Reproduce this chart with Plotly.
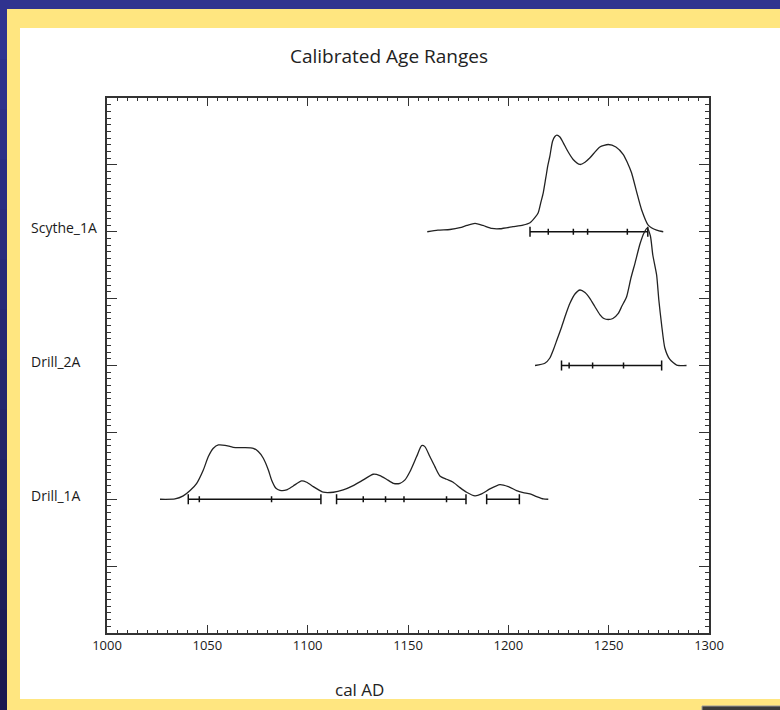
import plotly.graph_objects as go

# ---------------- data ----------------
samples = ["Scythe_1A", "Drill_2A", "Drill_1A"]

scythe_years = [1159.6, 1164.9, 1170.9, 1175.9, 1179.4, 1183.4, 1187.3, 1191.8, 1195.8, 1202.3,
                1207.3, 1210.8, 1213.3, 1214.9, 1216.2, 1217.4, 1218.7, 1219.7, 1220.7, 1222.0,
                1223.2, 1224.2, 1225.7, 1227.4, 1229.7, 1232.3, 1235.7, 1238.2, 1240.7, 1245.6,
                1249.8, 1253.6, 1257.3, 1259.3, 1261.4, 1263.9, 1266.4, 1269.7, 1273.9, 1277.2]
scythe_dens = [0, 0.024, 0.034, 0.060, 0.094, 0.124, 0.094, 0.049, 0.045, 0.075,
               0.099, 0.135, 0.214, 0.284, 0.438, 0.583, 0.812, 0.991, 1.130, 1.350,
               1.425, 1.444, 1.417, 1.330, 1.200, 1.081, 1.006, 1.040, 1.106, 1.268,
               1.305, 1.268, 1.155, 1.036, 0.882, 0.600, 0.330, 0.100, 0.024, 0]

drill2_years = [1213.3, 1218.2, 1220.7, 1222.4, 1224.2, 1226.6, 1228.7, 1230.7, 1233.2, 1235.7,
                1238.2, 1240.7, 1243.1, 1245.6, 1247.6, 1249.8, 1252.1, 1254.8, 1256.6, 1258.9,
                1261.1, 1263.1, 1265.6, 1267.6, 1269.2, 1270.8, 1272.0, 1273.9, 1275.0, 1276.4,
                1278.0, 1280.5, 1283.9, 1288.8]
drill2_dens = [0, 0.033, 0.112, 0.232, 0.381, 0.580, 0.770, 0.930, 1.069, 1.129,
               1.091, 1.001, 0.882, 0.762, 0.703, 0.688, 0.703, 0.780, 0.889, 1.024,
               1.308, 1.528, 1.816, 1.981, 2.055, 1.936, 1.652, 1.353, 0.979, 0.605,
               0.262, 0.090, 0.007, 0]

drill1_years = [1026.4, 1033.9, 1038.0, 1041.4, 1044.7, 1048.0, 1050.5, 1053.0, 1055.5, 1058.8,
                1062.9, 1067.9, 1072.9, 1075.4, 1077.9, 1080.4, 1082.0, 1084.2, 1086.2, 1089.5,
                1092.8, 1097.0, 1099.5, 1102.8, 1106.1, 1107.8, 1112.8, 1117.7, 1122.7, 1127.7,
                1132.7, 1136.0, 1139.3, 1142.7, 1146.0, 1148.5, 1151.0, 1154.3, 1156.8, 1158.4,
                1160.9, 1163.4, 1165.9, 1169.2, 1172.5, 1175.9, 1179.2, 1183.4, 1186.7, 1190.8,
                1195.8, 1200.0, 1204.1, 1207.4, 1210.8, 1214.1, 1217.4, 1219.9]
drill1_dens = [0, 0.005, 0.05, 0.13, 0.239, 0.438, 0.638, 0.762, 0.812, 0.807,
               0.777, 0.772, 0.762, 0.713, 0.613, 0.438, 0.289, 0.164, 0.134, 0.140,
               0.199, 0.274, 0.254, 0.189, 0.130, 0.105, 0.105, 0.140, 0.204, 0.289,
               0.374, 0.354, 0.299, 0.239, 0.239, 0.289, 0.414, 0.638, 0.802, 0.787,
               0.638, 0.488, 0.349, 0.299, 0.254, 0.174, 0.105, 0.050, 0.080, 0.154,
               0.219, 0.189, 0.130, 0.100, 0.080, 0.040, 0.005, 0]

scythe_ranges = [(1210.8, 1269.5)]
scythe_ticks = [1219.9, 1232.4, 1239.5, 1259.3]
drill2_ranges = [(1226.5, 1276.4)]
drill2_ticks = [1230.3, 1242.0, 1257.4]
drill1_ranges = [(1040.5, 1106.6), (1114.4, 1178.9), (1189.2, 1205.5)]
drill1_ticks = [1046.0, 1082.0, 1127.7, 1138.8, 1148.0, 1169.2]

x_ticks = [1000, 1050, 1100, 1150, 1200, 1250, 1300]

curves = [(scythe_years, scythe_dens), (drill2_years, drill2_dens), (drill1_years, drill1_dens)]
ranges = [scythe_ranges, drill2_ranges, drill1_ranges]
inner = [scythe_ticks, drill2_ticks, drill1_ticks]

# ---------------- layout geometry ----------------
W, H = 780, 710
ML, MR, MT, MB = 107, 71, 98, 77
PW, PH = W - ML - MR, H - MT - MB


def px(xp):
    return (xp - ML) / PW


def py(yp):
    return (H - MB - yp) / PH


INK = "#1a1a1a"
FONT = "Open Sans"
CAP = 0.075    # half-height of range end caps (y units)
TICK = 0.045   # half-height of inner ticks

fig = go.Figure()

n = len(samples)
for i, name in enumerate(samples):
    base = 2 * (n - i)
    xs, ds = curves[i]
    fig.add_trace(go.Scatter(
        x=xs, y=[base + d for d in ds], mode="lines",
        line=dict(color="#222222", width=1.3, shape="spline", smoothing=0.6),
        hoverinfo="skip", showlegend=False))
    bx, by = [], []
    for a, b in ranges[i]:
        bx += [a, b, None, a, a, None, b, b, None]
        by += [base, base, None, base - CAP, base + CAP, None, base - CAP, base + CAP, None]
    for t in inner[i]:
        bx += [t, t, None]
        by += [base - TICK, base + TICK, None]
    fig.add_trace(go.Scatter(
        x=bx, y=by, mode="lines", line=dict(color="#111111", width=1.5),
        hoverinfo="skip", showlegend=False))

# background decoration
shapes = [
    dict(type="rect", xref="paper", yref="paper", x0=px(7), x1=px(W), y0=py(H), y1=py(9),
         fillcolor="#FFE680", line=dict(width=0), layer="below"),
    dict(type="rect", xref="paper", yref="paper", x0=px(20), x1=px(W), y0=py(699), y1=py(28),
         fillcolor="#FFFFFF", line=dict(width=0), layer="below"),
    dict(type="rect", xref="paper", yref="paper", x0=px(702), x1=px(W + 2), y0=py(H + 2), y1=py(706),
         fillcolor="#3a3a3a", line=dict(color="#9a9a9a", width=1), layer="below"),
]
# left blue strip darkening towards the bottom
nb = 14
c0 = (0x30, 0x33, 0x90)
c1 = (0x1b, 0x1a, 0x4f)
for k in range(nb):
    f = k / (nb - 1)
    col = "rgb(%d,%d,%d)" % tuple(round(c0[j] + (c1[j] - c0[j]) * f) for j in range(3))
    y_top = 9 + (H - 9) * k / nb
    y_bot = 9 + (H - 9) * (k + 1) / nb
    shapes.append(dict(type="rect", xref="paper", yref="paper", x0=px(-2), x1=px(7),
                       y0=py(y_bot + 1), y1=py(y_top), fillcolor=col, line=dict(width=0),
                       layer="below"))

annotations = [
    dict(text="Calibrated Age Ranges", xref="paper", yref="paper", x=px(389), y=py(56),
         xanchor="center", yanchor="middle", showarrow=False,
         font=dict(family=FONT, size=19, color="#222222")),
    dict(text="cal AD", xref="paper", yref="paper", x=px(359), y=py(689),
         xanchor="center", yanchor="middle", showarrow=False,
         font=dict(family=FONT, size=17, color="#222222")),
]
for i, name in enumerate(samples):
    annotations.append(dict(text=name, xref="paper", yref="y", x=px(29), y=2 * (n - i),
                            xanchor="left", yanchor="middle", yshift=4, showarrow=False,
                            font=dict(family=FONT, size=14, color=INK)))

axis_common = dict(showline=True, linecolor="#333333", linewidth=1.5, mirror="ticks",
                   ticks="inside", tickcolor="#333333", tickwidth=1, showgrid=False,
                   zeroline=False)

fig.update_layout(
    width=W, height=H,
    margin=dict(l=ML, r=MR, t=MT, b=MB),
    paper_bgcolor="#30338F", plot_bgcolor="rgba(0,0,0,0)",
    shapes=shapes, annotations=annotations,
    xaxis=dict(range=[1000, 1300], tickvals=x_ticks, ticklen=8,
               tickfont=dict(family=FONT, size=13, color=INK),
               minor=dict(dtick=5, ticklen=3, ticks="inside", tickcolor="#333333", tickwidth=1),
               **axis_common),
    yaxis=dict(range=[0, 8], tickvals=list(range(0, 9)), ticklen=10, showticklabels=False,
               minor=dict(dtick=0.1, ticklen=4, ticks="inside", tickcolor="#333333", tickwidth=1),
               **axis_common),
    showlegend=False,
)

fig.write_html("out.html")
